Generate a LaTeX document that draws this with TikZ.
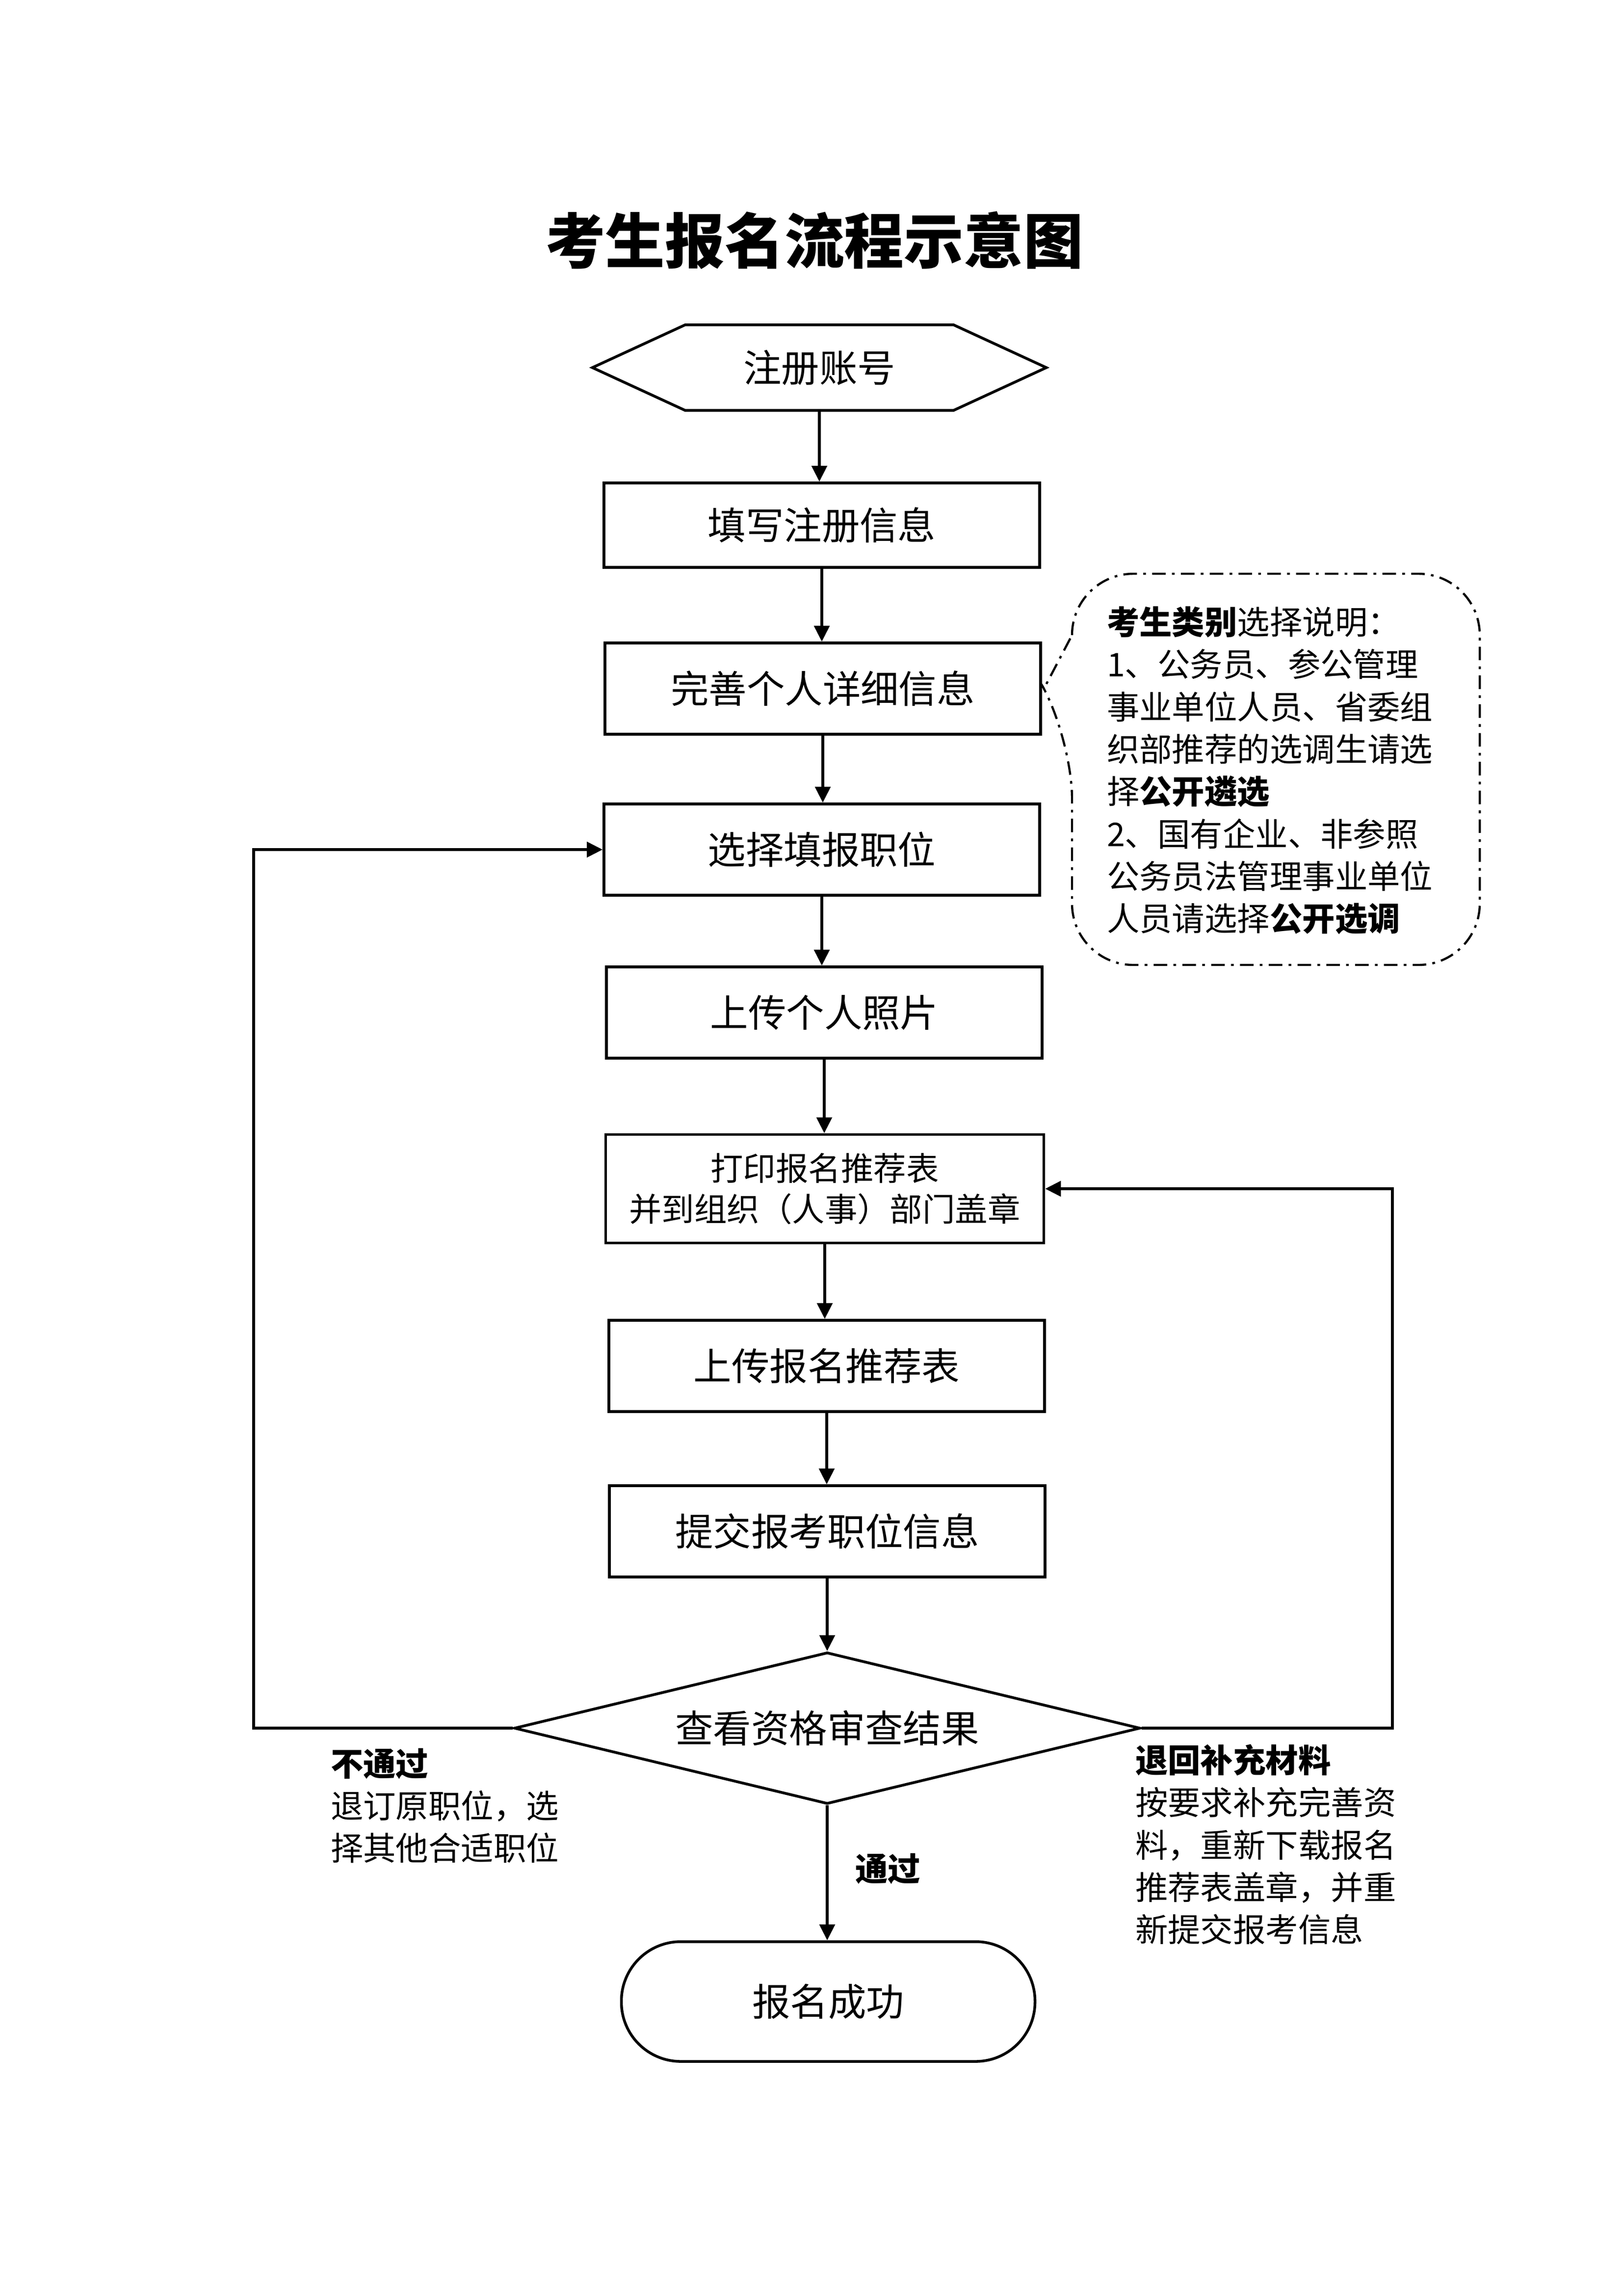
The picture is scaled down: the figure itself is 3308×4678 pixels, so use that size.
\documentclass[tikz,border=0pt]{standalone}
\usepackage{fontspec}
\setmainfont{Noto Sans CJK SC}
\usetikzlibrary{arrows.meta,shapes.geometric}
\def\pxu{0.0635mm}
\begin{document}
\begin{tikzpicture}[x=0.0635mm, y=-0.0635mm,
  box/.style={draw, line width=1pt, rectangle, inner sep=0pt,
    minimum width=888*\pxu, minimum height=186*\pxu,
    font=\fontsize{14pt}{17pt}\selectfont},
  arr/.style={line width=1pt, -{Triangle[length=5.8pt,width=5.6pt]}},
  plain/.style={line width=1pt},
  callout/.style={line width=0.8pt, dash pattern=on 5pt off 2.3pt on 1pt off 2.3pt},
  lbl/.style={inner sep=0pt, anchor=west, align=left,
    font=\fontsize{12pt}{15.6pt}\selectfont},
  big/.style={font=\fontsize{14pt}{17pt}\selectfont}]
\useasboundingbox (0,0) rectangle (3308,4678);

\node[inner sep=0pt, font=\fontsize{22pt}{26pt}\selectfont\bfseries] (title) at (1660,490) {考生报名流程示意图};

% start hexagon
\node[big, inner sep=0pt, minimum width=923*\pxu, minimum height=172*\pxu] (hex) at (1670,749) {注册账号};
\draw[plain] (hex.west) -- ([xshift=189*\pxu]hex.north west) -- ([xshift=-189*\pxu]hex.north east)
  -- (hex.east) -- ([xshift=-189*\pxu]hex.south east) -- ([xshift=189*\pxu]hex.south west) -- cycle;

\node[box, minimum height=172*\pxu] (b2) at (1675,1070) {填写注册信息};
\node[box] (b3) at (1677,1403) {完善个人详细信息};
\node[box] (b4) at (1675,1731) {选择填报职位};
\node[box] (b5) at (1680,2063) {上传个人照片};
\node[box, minimum height=221*\pxu, minimum width=893*\pxu, align=center,
  font=\fontsize{12pt}{15.1pt}\selectfont] (b6) at (1681,2422) {打印报名推荐表\\并到组织（人事）部门盖章};
\node[box] (b7) at (1685,2783) {上传报名推荐表};
\node[box] (b8) at (1686,3120) {提交报考职位信息};
\node[big, diamond, draw, line width=1pt, inner sep=0pt, aspect=4.13,
  minimum width=1276*\pxu, minimum height=309*\pxu] (dia) at (1686,3521) {查看资格审查结果};
\node[big, draw, line width=1pt, rounded corners=121*\pxu, inner sep=0pt,
  minimum width=843*\pxu, minimum height=244*\pxu] (end) at (1688,4078) {报名成功};

% main arrows
\draw[arr] (hex.south) -- (hex.south |- b2.north);
\draw[arr] (b2.south) -- (b2.south |- b3.north);
\draw[arr] (b3.south) -- (b3.south |- b4.north);
\draw[arr] (b4.south) -- (b4.south |- b5.north);
\draw[arr] (b5.south) -- (b5.south |- b6.north);
\draw[arr] (b6.south) -- (b6.south |- b7.north);
\draw[arr] (b7.south) -- (b7.south |- b8.north);
\draw[arr] (b8.south) -- (b8.south |- dia.north);
\draw[arr] (dia.south) -- (dia.south |- end.north);

% loops
\coordinate (L) at (517,3521);
\coordinate (R) at (2838,3521);
\draw[arr] (dia.west) -- (L) |- (b4.west);
\draw[arr] (dia.east) -- (R) |- (b6.east);

% callout
\coordinate (tip) at ([xshift=4*\pxu]b3.east);
\draw[callout] (2185,1294) [rounded corners=125*\pxu] -- (2185,1169) -- (3016,1169) -- (3016,1966)
  -- (2185,1966) -- (2185,1502) [sharp corners] -- (tip) -- cycle;

\node[lbl] (note) at (2255,1570) {\textbf{考生类别}选择说明：\\1、公务员、参公管理\\事业单位人员、省委组\\织部推荐的选调生请选\\择\textbf{公开遴选}\\2、国有企业、非参照\\公务员法管理事业单位\\人员请选择\textbf{公开选调}};

% labels
\node[lbl] (nopass) at (673,3679) {\textbf{不通过}\\退订原职位，选\\择其他合适职位};
\node[lbl] (ret) at (2313,3758) {\textbf{退回补充材料}\\按要求补充完善资\\料，重新下载报名\\推荐表盖章，并重\\新提交报考信息};
\node[lbl, font=\fontsize{12pt}{15.6pt}\selectfont\bfseries] (pass) at (1742,3808) {通过};
\end{tikzpicture}
\end{document}
